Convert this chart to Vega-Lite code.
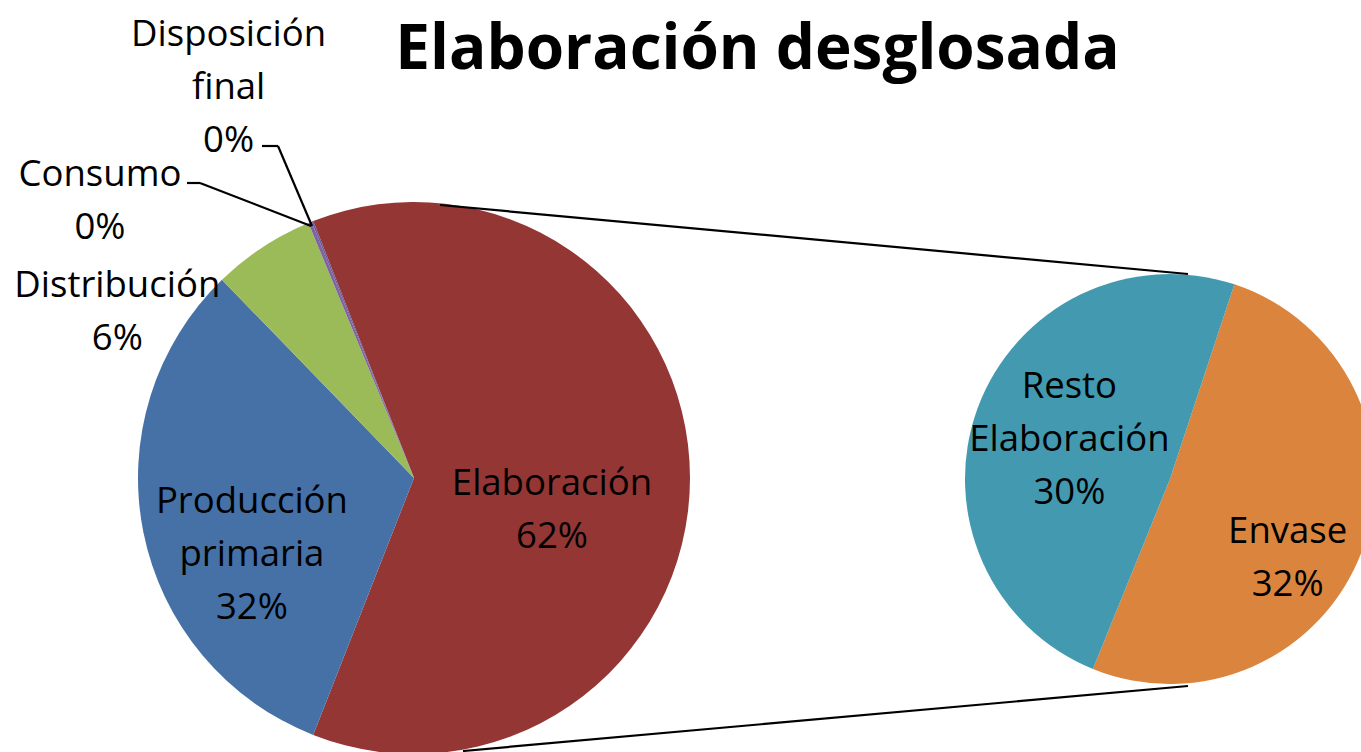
{
  "$schema": "https://vega.github.io/schema/vega-lite/v6.json",
  "width": 1361,
  "height": 752,
  "autosize": {"type": "none"},
  "padding": 0,
  "background": "white",
  "config": {"view": {"stroke": null}},
  "title": {"text": "Elaboración desglosada", "font": "Open Sans", "fontSize": 62, "fontWeight": "bold", "color": "black", "anchor": "middle", "dx": 77, "offset": -82},
  "datasets": {
    "principal": [
      {"grafico": "Principal", "categoria": "Elaboración", "valor": 61.9, "orden": 1},
      {"grafico": "Principal", "categoria": "Producción primaria", "valor": 31.8, "orden": 2},
      {"grafico": "Principal", "categoria": "Distribución", "valor": 6.0, "orden": 3},
      {"grafico": "Principal", "categoria": "Consumo", "valor": 0.2, "orden": 4},
      {"grafico": "Principal", "categoria": "Disposición final", "valor": 0.1, "orden": 5}
    ],
    "desglose": [
      {"grafico": "Desglose", "categoria": "Envase", "valor": 31.6, "orden": 1},
      {"grafico": "Desglose", "categoria": "Resto Elaboración", "valor": 30.3, "orden": 2}
    ],
    "graficos": [{"grafico": "Principal"}, {"grafico": "Desglose"}],
    "guia": [{"extremo": "etiqueta"}, {"extremo": "sector"}]
  },
  "resolve": {"scale": {"x": "independent", "y": "independent", "theta": "independent"}},
  "layer": [
    {
      "data": {"name": "principal"},
      "mark": {"type": "arc", "outerRadius": 276, "stroke": null},
      "encoding": {
        "x": {"field": "grafico", "type": "nominal", "scale": {"type": "point", "domain": ["Principal", "Desglose"], "range": [414, 1170], "padding": 0}, "axis": null},
        "y": {"field": "grafico", "type": "nominal", "scale": {"type": "point", "domain": ["Principal", "Desglose"], "range": [478, 479], "padding": 0}, "axis": null},
        "theta": {"field": "valor", "type": "quantitative", "stack": true, "scale": {"range": [-0.3738, 5.9094]}},
        "order": {"field": "orden", "type": "quantitative"},
        "color": {"field": "categoria", "type": "nominal", "legend": null,
          "scale": {"domain": ["Producción primaria", "Elaboración", "Distribución", "Consumo", "Disposición final", "Resto Elaboración", "Envase"],
                    "range": ["#4571A7", "#943634", "#9BBB59", "#7F63A1", "#6A5A9A", "#4299B0", "#DB843D"]}}
      }
    },
    {
      "data": {"name": "desglose"},
      "mark": {"type": "arc", "outerRadius": 205, "stroke": null},
      "encoding": {
        "x": {"field": "grafico", "type": "nominal", "scale": {"type": "point", "domain": ["Principal", "Desglose"], "range": [414, 1170], "padding": 0}, "axis": null},
        "y": {"field": "grafico", "type": "nominal", "scale": {"type": "point", "domain": ["Principal", "Desglose"], "range": [478, 479], "padding": 0}, "axis": null},
        "theta": {"field": "valor", "type": "quantitative", "stack": true, "scale": {"range": [0.3194, 6.6026]}},
        "order": {"field": "orden", "type": "quantitative"},
        "color": {"field": "categoria", "type": "nominal", "legend": null}
      }
    },
    {
      "data": {"name": "graficos"},
      "mark": {"type": "line", "stroke": "black", "strokeWidth": 2.2},
      "encoding": {
        "x": {"field": "grafico", "type": "nominal", "scale": {"type": "point", "domain": ["Principal", "Desglose"], "range": [440, 1188], "padding": 0}, "axis": null},
        "y": {"field": "grafico", "type": "nominal", "scale": {"type": "point", "domain": ["Principal", "Desglose"], "range": [205, 274], "padding": 0}, "axis": null}
      }
    },
    {
      "data": {"name": "graficos"},
      "mark": {"type": "line", "stroke": "black", "strokeWidth": 2.2},
      "encoding": {
        "x": {"field": "grafico", "type": "nominal", "scale": {"type": "point", "domain": ["Principal", "Desglose"], "range": [463, 1188], "padding": 0}, "axis": null},
        "y": {"field": "grafico", "type": "nominal", "scale": {"type": "point", "domain": ["Principal", "Desglose"], "range": [751, 686], "padding": 0}, "axis": null}
      }
    },
    {
      "data": {"name": "guia"},
      "mark": {"type": "line", "stroke": "black", "strokeWidth": 2.2},
      "encoding": {
        "x": {"field": "extremo", "type": "nominal", "scale": {"type": "point", "domain": ["etiqueta", "sector"], "range": [187, 200], "padding": 0}, "axis": null},
        "y": {"field": "extremo", "type": "nominal", "scale": {"type": "point", "domain": ["etiqueta", "sector"], "range": [183, 183], "padding": 0}, "axis": null}
      }
    },
    {
      "data": {"name": "guia"},
      "mark": {"type": "line", "stroke": "black", "strokeWidth": 2.2},
      "encoding": {
        "x": {"field": "extremo", "type": "nominal", "scale": {"type": "point", "domain": ["etiqueta", "sector"], "range": [200, 311], "padding": 0}, "axis": null},
        "y": {"field": "extremo", "type": "nominal", "scale": {"type": "point", "domain": ["etiqueta", "sector"], "range": [183, 226], "padding": 0}, "axis": null}
      }
    },
    {
      "data": {"name": "guia"},
      "mark": {"type": "line", "stroke": "black", "strokeWidth": 2.2},
      "encoding": {
        "x": {"field": "extremo", "type": "nominal", "scale": {"type": "point", "domain": ["etiqueta", "sector"], "range": [262, 278], "padding": 0}, "axis": null},
        "y": {"field": "extremo", "type": "nominal", "scale": {"type": "point", "domain": ["etiqueta", "sector"], "range": [146, 146], "padding": 0}, "axis": null}
      }
    },
    {
      "data": {"name": "guia"},
      "mark": {"type": "line", "stroke": "black", "strokeWidth": 2.2},
      "encoding": {
        "x": {"field": "extremo", "type": "nominal", "scale": {"type": "point", "domain": ["etiqueta", "sector"], "range": [278, 312], "padding": 0}, "axis": null},
        "y": {"field": "extremo", "type": "nominal", "scale": {"type": "point", "domain": ["etiqueta", "sector"], "range": [146, 226], "padding": 0}, "axis": null}
      }
    },
    {
      "data": {"name": "principal"},
      "transform": [{"calculate": "replace(datum.categoria, ' ', '\\n') + '\\n' + format(datum.valor / 100, '.0%')", "as": "etiqueta"}],
      "mark": {"type": "text", "radius": 150, "dx": -12, "dy": 6, "font": "Open Sans", "fontSize": 36.5, "lineHeight": 53, "lineBreak": "\n", "align": "center", "baseline": "middle", "color": "black"},
      "encoding": {
        "x": {"field": "grafico", "type": "nominal", "scale": {"type": "point", "domain": ["Principal", "Desglose"], "range": [414, 1170], "padding": 0}, "axis": null},
        "y": {"field": "grafico", "type": "nominal", "scale": {"type": "point", "domain": ["Principal", "Desglose"], "range": [478, 479], "padding": 0}, "axis": null},
        "theta": {"field": "valor", "type": "quantitative", "stack": true, "scale": {"range": [-0.3738, 5.9094]}},
        "order": {"field": "orden", "type": "quantitative"},
        "detail": {"field": "categoria", "type": "nominal"},
        "text": {"condition": {"test": "datum.categoria === 'Elaboración'", "field": "etiqueta"}, "value": ""}
      }
    },
    {
      "data": {"name": "principal"},
      "transform": [{"calculate": "replace(datum.categoria, ' ', '\\n') + '\\n' + format(datum.valor / 100, '.0%')", "as": "etiqueta"}],
      "mark": {"type": "text", "radius": 150, "dx": -15, "dy": -5, "font": "Open Sans", "fontSize": 36.5, "lineHeight": 53, "lineBreak": "\n", "align": "center", "baseline": "middle", "color": "black"},
      "encoding": {
        "x": {"field": "grafico", "type": "nominal", "scale": {"type": "point", "domain": ["Principal", "Desglose"], "range": [414, 1170], "padding": 0}, "axis": null},
        "y": {"field": "grafico", "type": "nominal", "scale": {"type": "point", "domain": ["Principal", "Desglose"], "range": [478, 479], "padding": 0}, "axis": null},
        "theta": {"field": "valor", "type": "quantitative", "stack": true, "scale": {"range": [-0.3738, 5.9094]}},
        "order": {"field": "orden", "type": "quantitative"},
        "detail": {"field": "categoria", "type": "nominal"},
        "text": {"condition": {"test": "datum.categoria === 'Producción primaria'", "field": "etiqueta"}, "value": ""}
      }
    },
    {
      "data": {"name": "principal"},
      "transform": [{"calculate": "replace(datum.categoria, ' ', '\\n') + '\\n' + format(datum.valor / 100, '.0%')", "as": "etiqueta"}],
      "mark": {"type": "text", "radius": 300, "dx": -132, "dy": 59, "font": "Open Sans", "fontSize": 36.5, "lineHeight": 53, "lineBreak": "\n", "align": "center", "baseline": "middle", "color": "black"},
      "encoding": {
        "x": {"field": "grafico", "type": "nominal", "scale": {"type": "point", "domain": ["Principal", "Desglose"], "range": [414, 1170], "padding": 0}, "axis": null},
        "y": {"field": "grafico", "type": "nominal", "scale": {"type": "point", "domain": ["Principal", "Desglose"], "range": [478, 479], "padding": 0}, "axis": null},
        "theta": {"field": "valor", "type": "quantitative", "stack": true, "scale": {"range": [-0.3738, 5.9094]}},
        "order": {"field": "orden", "type": "quantitative"},
        "detail": {"field": "categoria", "type": "nominal"},
        "text": {"condition": {"test": "datum.categoria === 'Distribución'", "field": "etiqueta"}, "value": ""}
      }
    },
    {
      "data": {"name": "principal"},
      "transform": [{"calculate": "replace(datum.categoria, ' ', '\\n') + '\\n' + format(datum.valor / 100, '.0%')", "as": "etiqueta"}],
      "mark": {"type": "text", "radius": 300, "dx": -201, "dy": -25, "font": "Open Sans", "fontSize": 36.5, "lineHeight": 53, "lineBreak": "\n", "align": "center", "baseline": "middle", "color": "black"},
      "encoding": {
        "x": {"field": "grafico", "type": "nominal", "scale": {"type": "point", "domain": ["Principal", "Desglose"], "range": [414, 1170], "padding": 0}, "axis": null},
        "y": {"field": "grafico", "type": "nominal", "scale": {"type": "point", "domain": ["Principal", "Desglose"], "range": [478, 479], "padding": 0}, "axis": null},
        "theta": {"field": "valor", "type": "quantitative", "stack": true, "scale": {"range": [-0.3738, 5.9094]}},
        "order": {"field": "orden", "type": "quantitative"},
        "detail": {"field": "categoria", "type": "nominal"},
        "text": {"condition": {"test": "datum.categoria === 'Consumo'", "field": "etiqueta"}, "value": ""}
      }
    },
    {
      "data": {"name": "principal"},
      "transform": [{"calculate": "replace(datum.categoria, ' ', '\\n') + '\\n' + format(datum.valor / 100, '.0%')", "as": "etiqueta"}],
      "mark": {"type": "text", "radius": 300, "dx": -75, "dy": -164, "font": "Open Sans", "fontSize": 36.5, "lineHeight": 53, "lineBreak": "\n", "align": "center", "baseline": "middle", "color": "black"},
      "encoding": {
        "x": {"field": "grafico", "type": "nominal", "scale": {"type": "point", "domain": ["Principal", "Desglose"], "range": [414, 1170], "padding": 0}, "axis": null},
        "y": {"field": "grafico", "type": "nominal", "scale": {"type": "point", "domain": ["Principal", "Desglose"], "range": [478, 479], "padding": 0}, "axis": null},
        "theta": {"field": "valor", "type": "quantitative", "stack": true, "scale": {"range": [-0.3738, 5.9094]}},
        "order": {"field": "orden", "type": "quantitative"},
        "detail": {"field": "categoria", "type": "nominal"},
        "text": {"condition": {"test": "datum.categoria === 'Disposición final'", "field": "etiqueta"}, "value": ""}
      }
    },
    {
      "data": {"name": "desglose"},
      "transform": [{"calculate": "replace(datum.categoria, ' ', '\\n') + '\\n' + format(datum.valor / 100, '.0%')", "as": "etiqueta"}],
      "mark": {"type": "text", "radius": 120, "dx": 5, "dy": 12, "font": "Open Sans", "fontSize": 36.5, "lineHeight": 53, "lineBreak": "\n", "align": "center", "baseline": "middle", "color": "black"},
      "encoding": {
        "x": {"field": "grafico", "type": "nominal", "scale": {"type": "point", "domain": ["Principal", "Desglose"], "range": [414, 1170], "padding": 0}, "axis": null},
        "y": {"field": "grafico", "type": "nominal", "scale": {"type": "point", "domain": ["Principal", "Desglose"], "range": [478, 479], "padding": 0}, "axis": null},
        "theta": {"field": "valor", "type": "quantitative", "stack": true, "scale": {"range": [0.3194, 6.6026]}},
        "order": {"field": "orden", "type": "quantitative"},
        "detail": {"field": "categoria", "type": "nominal"},
        "text": {"condition": {"test": "datum.categoria === 'Envase'", "field": "etiqueta"}, "value": ""}
      }
    },
    {
      "data": {"name": "desglose"},
      "transform": [{"calculate": "replace(datum.categoria, ' ', '\\n') + '\\n' + format(datum.valor / 100, '.0%')", "as": "etiqueta"}],
      "mark": {"type": "text", "radius": 120, "dx": 12, "dy": -51, "font": "Open Sans", "fontSize": 36.5, "lineHeight": 53, "lineBreak": "\n", "align": "center", "baseline": "middle", "color": "black"},
      "encoding": {
        "x": {"field": "grafico", "type": "nominal", "scale": {"type": "point", "domain": ["Principal", "Desglose"], "range": [414, 1170], "padding": 0}, "axis": null},
        "y": {"field": "grafico", "type": "nominal", "scale": {"type": "point", "domain": ["Principal", "Desglose"], "range": [478, 479], "padding": 0}, "axis": null},
        "theta": {"field": "valor", "type": "quantitative", "stack": true, "scale": {"range": [0.3194, 6.6026]}},
        "order": {"field": "orden", "type": "quantitative"},
        "detail": {"field": "categoria", "type": "nominal"},
        "text": {"condition": {"test": "datum.categoria === 'Resto Elaboración'", "field": "etiqueta"}, "value": ""}
      }
    }
  ]
}
